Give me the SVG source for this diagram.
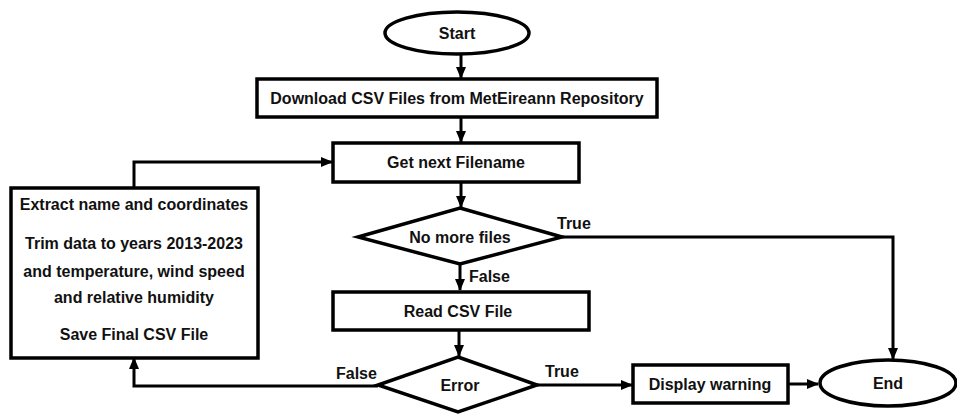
<svg xmlns="http://www.w3.org/2000/svg" width="957" height="414" viewBox="0 0 957 414">
<defs>
<marker id="arr" markerUnits="userSpaceOnUse" markerWidth="12" markerHeight="12" viewBox="0 0 12 12" refX="11" refY="6" orient="auto">
<path d="M0,1 L12,6 L0,11 Z" fill="#000"/>
</marker>
</defs>
<style>
.s{fill:#fff;stroke:#000;stroke-width:3.5}
.t{font-family:"Liberation Sans",Arial,sans-serif;font-weight:bold;font-size:16px;fill:#111;text-anchor:middle}
.l{font-family:"Liberation Sans",Arial,sans-serif;font-weight:bold;font-size:16px;fill:#111}
.c{fill:none;stroke:#000;stroke-width:3}
</style>
<rect width="957" height="414" fill="#fff"/>
<g id="connectors">
<line class="c" x1="461" y1="55" x2="461" y2="78" marker-end="url(#arr)"/>
<line class="c" x1="461" y1="117" x2="461" y2="142" marker-end="url(#arr)"/>
<line class="c" x1="461" y1="182" x2="461" y2="207" marker-end="url(#arr)"/>
<line class="c" x1="460" y1="263" x2="460" y2="290" marker-end="url(#arr)"/>
<line class="c" x1="459" y1="330" x2="459" y2="356" marker-end="url(#arr)"/>
<line class="c" x1="537" y1="385" x2="632" y2="385" marker-end="url(#arr)"/>
<line class="c" x1="788" y1="384" x2="818" y2="384" marker-end="url(#arr)"/>
<polyline class="c" points="562,237 893,237 893,359" marker-end="url(#arr)"/>
<polyline class="c" points="378,386 134,386 134,358" marker-end="url(#arr)"/>
<polyline class="c" points="134,188 134,162 332,162" marker-end="url(#arr)"/>
<text class="l" x="557" y="229">True</text>
<text class="l" x="469" y="282">False</text>
<text class="l" x="545" y="377">True</text>
<text class="l" x="336" y="379">False</text>
</g>
<g id="start">
<ellipse class="s" cx="457" cy="33" rx="72" ry="21"/>
<text class="t" x="457" y="39">Start</text>
</g>
<g id="download">
<rect class="s" x="257" y="79" width="400" height="38"/>
<text class="t" x="457" y="104">Download CSV Files from MetEireann Repository</text>
</g>
<g id="getnext">
<rect class="s" x="333" y="143" width="246" height="39"/>
<text class="t" x="456" y="168">Get next Filename</text>
</g>
<g id="nomore">
<polygon class="s" points="460,208 562,237 460,264 358,237"/>
<text class="t" x="460" y="243">No more files</text>
</g>
<g id="readcsv">
<rect class="s" x="333" y="292" width="256" height="38"/>
<text class="t" x="458" y="317">Read CSV File</text>
</g>
<g id="error">
<polygon class="s" points="458,357 537,385 458,412 378,385"/>
<text class="t" x="460" y="391">Error</text>
</g>
<g id="extract">
<rect class="s" x="11" y="188" width="247" height="170"/>
<text class="t" x="134" y="210">Extract name and coordinates</text>
<text class="t" x="134" y="249">Trim data to years 2013-2023</text>
<text class="t" x="134" y="277">and temperature, wind speed</text>
<text class="t" x="134" y="303">and relative humidity</text>
<text class="t" x="134" y="340">Save Final CSV File</text>
</g>
<g id="display">
<rect class="s" x="633" y="365" width="155" height="38"/>
<text class="t" x="710" y="390">Display warning</text>
</g>
<g id="end">
<ellipse class="s" cx="888" cy="383" rx="68" ry="23"/>
<text class="t" x="888" y="389">End</text>
</g>
</svg>
